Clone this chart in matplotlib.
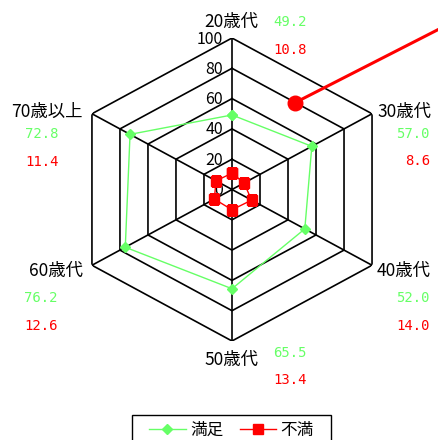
import numpy as np
import matplotlib
matplotlib.use("Agg")
import matplotlib.pyplot as plt
from matplotlib.lines import Line2D
from matplotlib.patches import Rectangle

categories = ["20歳代", "30歳代", "40歳代", "50歳代", "60歳代", "70歳以上"]
satisfied = [49.2, 57.0, 52.0, 65.5, 76.2, 72.8]
dissatisfied = [10.8, 8.6, 14.0, 13.4, 12.6, 11.4]
rTicks = [0, 20, 40, 60, 80, 100]
seriesNames = ["満足", "不満"]

green = "#66FF66"
red = "#FF0000"


def main():
    plt.rcParams["font.family"] = ["Noto Sans CJK JP", "DejaVu Sans"]
    fig = plt.figure(figsize=(4.39, 4.40), dpi=100)
    ax = fig.add_axes([0.1601, 0.225, 0.7367, 0.6886], projection="polar")
    ax.set_aspect("auto")
    ax.set_theta_zero_location("N")
    ax.set_theta_direction(-1)
    ax.set_ylim(0, 100)
    ax.grid(False)
    ax.set_xticks([])
    ax.set_yticks([])
    ax.spines["polar"].set_visible(False)
    ax.patch.set_visible(False)

    n = len(categories)
    thetas = np.arange(n)*2*np.pi/n
    closedThetas = np.append(thetas, thetas[0])

    # hexagon rings and spokes
    for r in rTicks[1:]:
        ax.plot(closedThetas, [r]*(n+1), color="black", lw=1.2, zorder=1)
    for t in thetas:
        ax.plot([t, t], [0, rTicks[-1]], color="black", lw=1.2, zorder=1)

    # radial tick labels
    for r in rTicks:
        ax.annotate("%d" % r, xy=(0, r), xytext=(-9, -1), textcoords="offset pixels",
                    ha="right", va="center", fontsize=11.5, annotation_clip=False)

    ax.plot(closedThetas, satisfied + satisfied[:1], color=green, lw=1.0,
            marker="D", markersize=5, label=seriesNames[0], zorder=3)
    ax.plot(closedThetas, dissatisfied + dissatisfied[:1], color=red, lw=1.0,
            marker="s", markersize=7.5, label=seriesNames[1], zorder=4)

    # category labels and values (offsets in pixels from each outer vertex)
    labelOffsets = [((-1, 16), "center"), ((5, 2), "left"), ((5, -6), "left"),
                    ((-1, -19), "center"), ((-9, -6), "right"), ((-9.5, 1.5), "right")]
    valueOffsets = [((41, 16), (41, -12), "left"), ((58, -20), (58, -47), "right"),
                    ((58, -33), (58, -61), "right"), ((41, -12), (41, -39), "left"),
                    ((-67.5, -33), (-67.5, -61), "left"), ((-66.5, -20), (-66.5, -48), "left")]
    for i in range(n):
        (off, ha) = labelOffsets[i]
        ax.annotate(categories[i], xy=(thetas[i], 100), xytext=off, textcoords="offset pixels",
                    ha=ha, va="center", fontsize=12.5, annotation_clip=False)
        (gOff, rOff, vha) = valueOffsets[i]
        ax.annotate("%.1f" % satisfied[i], xy=(thetas[i], 100), xytext=gOff,
                    textcoords="offset pixels", ha=vha, va="center", fontsize=10,
                    family="DejaVu Sans Mono", color=green, annotation_clip=False)
        ax.annotate("%.1f" % dissatisfied[i], xy=(thetas[i], 100), xytext=rOff,
                    textcoords="offset pixels", ha=vha, va="center", fontsize=10,
                    family="DejaVu Sans Mono", color=red, annotation_clip=False)

    # red call-out line
    fig.add_artist(Line2D([0.672, 1.07], [0.7666, 0.9695], color=red, lw=2.2,
                          transform=fig.transFigure))
    fig.add_artist(Line2D([0.672], [0.7666], color=red, marker="o", markersize=10.5,
                          transform=fig.transFigure))

    fig.legend(loc="upper center", bbox_to_anchor=(231.5/439, 1-415/440), ncol=2,
               fontsize=12, frameon=False,
               handlelength=2.2, handletextpad=0.25, columnspacing=1.0,
               borderpad=0.4, borderaxespad=0)
    # legend box (wider than matplotlib's own frame, runs off the bottom edge)
    fig.add_artist(Rectangle((132/439, -0.05), (331-132)/439, 1-415/440+0.05,
                             transform=fig.transFigure, fill=False,
                             edgecolor="black", lw=1.0))

    fig.savefig("out.png", dpi=100)


if __name__ == "__main__":
    main()
